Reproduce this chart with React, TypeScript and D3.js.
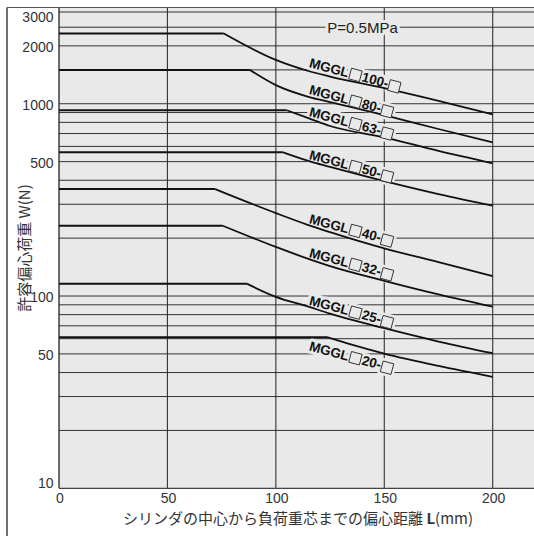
import React from "react";
import * as d3 from "d3";

// ---- data ----
const MODELS = ["100", "80", "63", "50", "40", "32", "25", "20"];

const MGGL100: [number, number][] = [[0, 2320], [76, 2320], [100, 1690], [115, 1480], [125, 1385], [150, 1205], [175, 1035], [200, 880]];
const MGGL80: [number, number][] = [[0, 1500], [88, 1500], [100, 1250], [115, 1087], [125, 1020], [150, 873], [175, 739], [200, 630]];
const MGGL63: [number, number][] = [[0, 925], [105, 925], [115, 842], [125, 766], [150, 669], [175, 568], [200, 490]];
const MGGL50: [number, number][] = [[0, 560], [103, 560], [115, 504], [125, 469], [150, 396], [175, 339], [200, 295]];
const MGGL40: [number, number][] = [[0, 360], [72, 360], [100, 270], [115, 234], [125, 215], [150, 177], [175, 150], [200, 127]];
const MGGL32: [number, number][] = [[0, 232], [75.5, 232], [100, 180], [115, 156], [125, 143], [150, 120], [175, 102], [200, 88]];
const MGGL25: [number, number][] = [[0, 116], [86.6, 116], [100, 99], [115, 88], [125, 81], [150, 68], [175, 58], [200, 50.4]];
const MGGL20: [number, number][] = [[0, 61], [124, 61], [135, 55.9], [150, 50.2], [175, 43.3], [200, 38]];

const SERIES = [MGGL100, MGGL80, MGGL63, MGGL50, MGGL40, MGGL32, MGGL25, MGGL20];

const Y_GRID = [20, 30, 40, 50, 60, 70, 80, 90, 100, 200, 300, 400, 500, 600, 700, 800, 900, 1000, 1500, 2000, 2500, 3000];
const Y_TICKS = [10, 50, 100, 500, 1000, 2000, 3000];
const X_GRID = [50, 100, 150, 200];
const X_TICKS = [0, 50, 100, 150, 200];

const PRESSURE_LABEL = "P=0.5MPa";
const Y_TITLE = "許容偏心荷重 W(N)";
const X_TITLE_MAIN = "シリンダの中心から負荷重芯までの偏心距離 ";
const X_TITLE_L = "L";
const X_TITLE_UNIT = "(mm)";

// label placement (style, not data)
const LABEL_L = 115;
const LABEL_DY = [-4, -3, -2, -2, -2, -2, -2, 13];
const LABEL_ANGLE = 15;
const LABEL_FS = 13.5;
const BOX = 11;

const BG = "#e8e9e8";
const LATIN = "'Liberation Sans', Arial, Helvetica, sans-serif";
const CJK = "'Noto Sans CJK JP', 'Noto Sans', sans-serif";

// Arial/Liberation Sans Bold advance widths (em)
const ADV: Record<string, number> = { M: 0.833, G: 0.778, L: 0.611, "-": 0.333 };
const advOf = (s: string) => s.split("").reduce((a, c) => a + (ADV[c] ?? 0.556), 0) * LABEL_FS;

function valueAt(pts: [number, number][], L: number): number {
  for (let i = 1; i < pts.length; i++) {
    const [x0, y0] = pts[i - 1];
    const [x1, y1] = pts[i];
    if (L >= x0 && L <= x1) {
      const t = (L - x0) / (x1 - x0);
      return Math.pow(10, Math.log10(y0) + t * (Math.log10(y1) - Math.log10(y0)));
    }
  }
  return pts[pts.length - 1][1];
}

export default function App() {
  const W = 534, H = 536;
  const left = 59, top = 8, bottom = 488.3, right = 545;
  const x = d3.scaleLinear().domain([0, 200]).range([59, 492.7]);
  const y = d3.scaleLog().domain([10, 3000]).range([488.3, 12]);

  const flatLine = d3.line<[number, number]>().x(d => x(d[0])).y(d => y(d[1]));
  const curveLine = d3.line<[number, number]>().x(d => x(d[0])).y(d => y(d[1])).curve(d3.curveMonotoneX);

  const labels = (halo: boolean) =>
    MODELS.map((m, i) => {
      const lx = x(LABEL_L);
      const ly = y(valueAt(SERIES[i], LABEL_L)) + LABEL_DY[i];
      const wM = advOf("MGGL");
      const b1 = wM + 1.5;
      const numX = b1 + BOX + 1.5;
      const wN = advOf(m + "-");
      const b2 = numX + wN + 1;
      const textProps = halo
        ? { fill: BG, stroke: BG, strokeWidth: 6, strokeLinejoin: "round" as const }
        : { fill: "#111" };
      const rectProps = halo
        ? { fill: BG, stroke: BG, strokeWidth: 6, strokeLinejoin: "round" as const }
        : { fill: BG, stroke: "#333", strokeWidth: 0.9 };
      return (
        <g key={"lab" + m + halo} transform={`translate(${lx},${ly}) rotate(${LABEL_ANGLE})`}>
          <text x={0} y={0} fontFamily={LATIN} fontWeight="bold" fontSize={LABEL_FS} {...textProps}>MGGL</text>
          <rect x={b1} y={-BOX + 1} width={BOX} height={BOX} {...rectProps} />
          <text x={numX} y={0} fontFamily={LATIN} fontWeight="bold" fontSize={LABEL_FS} {...textProps}>{m}-</text>
          <rect x={b2} y={-BOX + 2} width={BOX} height={BOX} {...rectProps} />
        </g>
      );
    });

  const pX = x(140), pY = y(2500);

  return (
    <svg width={W} height={H} style={{ position: "absolute", left: 0, top: 0, background: "#fff" }}>
      {/* plot background */}
      <rect x={left} y={top} width={right - left} height={bottom - top} fill={BG} />

      {/* horizontal grid */}
      {Y_GRID.map(v => (
        <line key={"h" + v} x1={left} x2={right} y1={y(v)} y2={y(v)} stroke="#333" strokeWidth={1} />
      ))}
      {/* vertical grid */}
      {X_GRID.map(v => (
        <line key={"v" + v} x1={x(v)} x2={x(v)} y1={top} y2={bottom} stroke="#333" strokeWidth={1.1} />
      ))}
      {/* axes */}
      <line x1={left} x2={left} y1={top} y2={bottom} stroke="#222" strokeWidth={1.3} />
      <line x1={left} x2={right} y1={bottom} y2={bottom} stroke="#444" strokeWidth={1.2} />

      {/* outer frame */}
      <line x1={7} x2={7} y1={7.5} y2={H} stroke="#222" strokeWidth={1.3} />
      <line x1={7} x2={W} y1={7.5} y2={7.5} stroke="#555" strokeWidth={1.2} />

      {/* halos */}
      {labels(true)}
      <text x={pX} y={pY + 5.5} textAnchor="middle" fontFamily={LATIN} fontSize={15}
        fill={BG} stroke={BG} strokeWidth={6} strokeLinejoin="round">{PRESSURE_LABEL}</text>

      {/* curves */}
      {SERIES.map((pts, i) => (
        <g key={"c" + i}>
          <path d={flatLine(pts.slice(0, 2)) || ""} fill="none" stroke="#111" strokeWidth={2} />
          <path d={curveLine(pts.slice(1)) || ""} fill="none" stroke="#111" strokeWidth={1.8} />
        </g>
      ))}

      {/* label text */}
      {labels(false)}
      <text x={pX} y={pY + 5.5} textAnchor="middle" fontFamily={LATIN} fontSize={15} fill="#222">{PRESSURE_LABEL}</text>

      {/* y tick labels */}
      {Y_TICKS.map(v => {
        const dy = v === 3000 ? 9.7 : v === 10 ? 0 : 6;
        return (
          <text key={"yt" + v} x={53.5} y={y(v) + dy} textAnchor="end" fontFamily={LATIN} fontSize={14} fill="#333">{v}</text>
        );
      })}
      {/* x tick labels */}
      {X_TICKS.map(v => (
        <text key={"xt" + v} x={x(v) + 1} y={503} textAnchor="middle" fontFamily={LATIN} fontSize={14} fill="#333">{v}</text>
      ))}

      {/* axis titles */}
      <text transform={`translate(29.5,248) rotate(-90)`} textAnchor="middle" fontFamily={CJK} fontSize={15} fill="#333">{Y_TITLE}</text>
      <text x={298} y={524} textAnchor="middle" fontFamily={CJK} fontSize={15} fill="#333">
        {X_TITLE_MAIN}
        <tspan fontWeight="bold">{X_TITLE_L}</tspan>
        {X_TITLE_UNIT}
      </text>
    </svg>
  );
}
